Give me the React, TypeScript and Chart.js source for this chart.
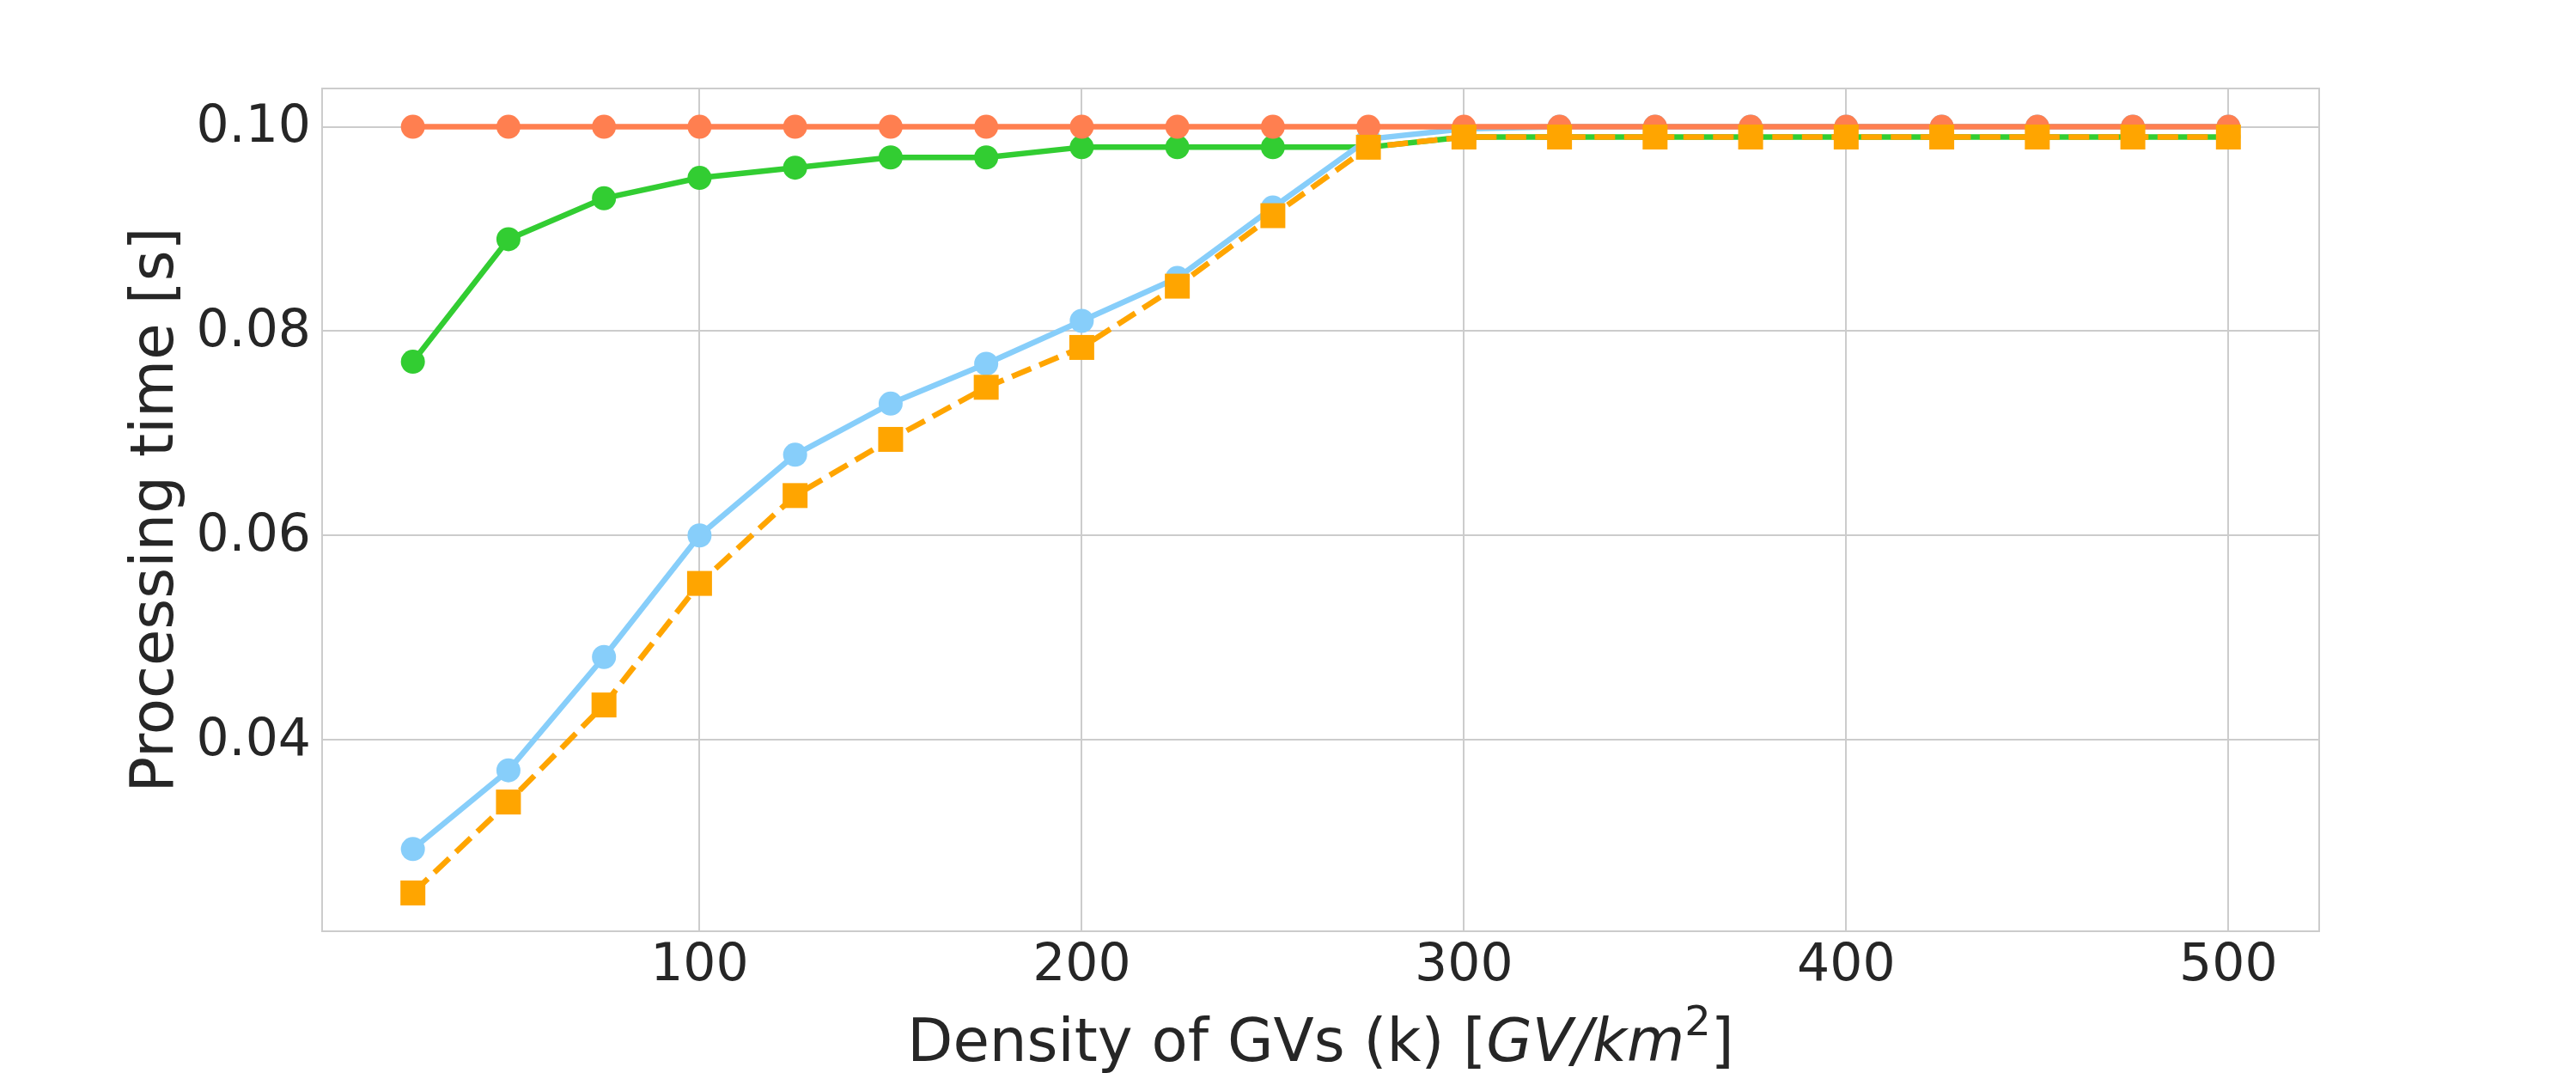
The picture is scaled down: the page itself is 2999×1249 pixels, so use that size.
import React, { useEffect, useRef } from 'react';
import { Chart, registerables } from 'chart.js';

Chart.register(...registerables);

// ---- data ----
const densities = [25, 50, 75, 100, 125, 150, 175, 200, 225, 250, 275, 300, 325, 350, 375, 400, 425, 450, 475, 500];
const timeCoral = [0.1, 0.1, 0.1, 0.1, 0.1, 0.1, 0.1, 0.1, 0.1, 0.1, 0.1, 0.1, 0.1, 0.1, 0.1, 0.1, 0.1, 0.1, 0.1, 0.1];
const timeGreen = [0.077, 0.089, 0.093, 0.095, 0.096, 0.097, 0.097, 0.098, 0.098, 0.098, 0.098, 0.099, 0.099, 0.099, 0.099, 0.099, 0.099, 0.099, 0.099, 0.099];
const timeBlue = [0.0293, 0.037, 0.0481, 0.06, 0.0679, 0.0729, 0.0768, 0.081, 0.0852, 0.0921, 0.0988, 0.0998, 0.1, 0.1, 0.1, 0.1, 0.1, 0.1, 0.1, 0.1];
const timeOrange = [0.025, 0.0339, 0.0434, 0.0553, 0.0639, 0.0694, 0.0745, 0.0784, 0.0844, 0.0913, 0.098, 0.099, 0.099, 0.099, 0.099, 0.099, 0.099, 0.099, 0.099, 0.099];
const xTicks = [100, 200, 300, 400, 500];
const yTicks = [0.04, 0.06, 0.08, 0.1];
const yTickLabels = ['0.04', '0.06', '0.08', '0.10'];
const yTitle = 'Processing time [s]';
const xTitleParts = ['Density of GVs (k) [', 'GV/km', '2', ']'];

const FONT = '"DejaVu Sans", sans-serif';
const TEXT = '#262626';
const GRID = '#cccccc';

const toPoints = (ys: number[]) => densities.map((x, i) => ({ x, y: ys[i] }));

const framePlugin = {
  id: 'frame',
  beforeDatasetsDraw(chart: any) {
    const { ctx, chartArea } = chart;
    ctx.save();
    ctx.strokeStyle = GRID;
    ctx.lineWidth = 2;
    ctx.strokeRect(chartArea.left, chartArea.top, chartArea.right - chartArea.left, chartArea.bottom - chartArea.top);
    ctx.restore();
  },
};

const xTitlePlugin = {
  id: 'xTitleMath',
  afterDraw(chart: any) {
    const { ctx, chartArea } = chart;
    const size = 69;
    const parts = [
      { text: xTitleParts[0], font: `${size}px ${FONT}`, dy: 0 },
      { text: xTitleParts[1], font: `italic ${size}px ${FONT}`, dy: 0 },
      { text: xTitleParts[2], font: `${Math.round(size * 0.7)}px ${FONT}`, dy: -30 },
      { text: xTitleParts[3], font: `${size}px ${FONT}`, dy: 0 },
    ];
    ctx.save();
    ctx.fillStyle = TEXT;
    ctx.textBaseline = 'alphabetic';
    ctx.textAlign = 'left';
    const widths = parts.map((p) => {
      ctx.font = p.font;
      return ctx.measureText(p.text).width;
    });
    const total = widths.reduce((a, b) => a + b, 0);
    let x = (chartArea.left + chartArea.right) / 2 - total / 2;
    const baseY = chartArea.bottom + 151;
    parts.forEach((p, i) => {
      ctx.font = p.font;
      ctx.fillText(p.text, x, baseY + p.dy);
      x += widths[i];
    });
    ctx.restore();
  },
};

export default function App() {
  const ref = useRef<HTMLCanvasElement | null>(null);

  useEffect(() => {
    if (!ref.current) return;
    const lineCommon = {
      borderWidth: 6.5,
      pointRadius: 14,
      pointHoverRadius: 14,
      pointBorderWidth: 0,
      tension: 0,
      borderJoinStyle: 'round' as const,
      borderCapStyle: 'butt' as const,
      clip: false as const,
    };
    const chart = new Chart(ref.current, {
      type: 'line',
      data: {
        datasets: [
          {
            ...lineCommon,
            label: 'Series D',
            data: toPoints(timeOrange),
            borderColor: '#FFA500',
            backgroundColor: '#FFA500',
            pointBackgroundColor: '#FFA500',
            pointStyle: 'rect',
            pointRadius: 20.5,
            pointHoverRadius: 20.5,
            borderDash: [24, 10.5],
            order: 0,
          },
          {
            ...lineCommon,
            label: 'Series A',
            data: toPoints(timeCoral),
            borderColor: '#FF7F50',
            backgroundColor: '#FF7F50',
            pointBackgroundColor: '#FF7F50',
            pointStyle: 'circle',
            order: 1,
          },
          {
            ...lineCommon,
            label: 'Series C',
            data: toPoints(timeBlue),
            borderColor: '#87CEFA',
            backgroundColor: '#87CEFA',
            pointBackgroundColor: '#87CEFA',
            pointStyle: 'circle',
            order: 2,
          },
          {
            ...lineCommon,
            label: 'Series B',
            data: toPoints(timeGreen),
            borderColor: '#32CD32',
            backgroundColor: '#32CD32',
            pointBackgroundColor: '#32CD32',
            pointStyle: 'circle',
            order: 3,
          },
        ],
      },
      options: {
        responsive: false,
        animation: false,
        devicePixelRatio: 1,
        layout: { padding: { left: 100, top: 103, right: 299, bottom: 0 } },
        plugins: {
          legend: { display: false },
          tooltip: { enabled: false },
        },
        scales: {
          x: {
            type: 'linear',
            position: 'bottom',
            min: 1.25,
            max: 523.75,
            afterBuildTicks: (scale: any) => {
              scale.ticks = xTicks.map((v) => ({ value: v }));
            },
            afterFit: (scale: any) => {
              scale.height = 165;
            },
            grid: { color: GRID, lineWidth: 2, drawTicks: false },
            border: { display: false },
            ticks: {
              color: TEXT,
              font: { family: FONT, size: 60 },
              padding: 5,
              maxRotation: 0,
              autoSkip: false,
              callback: (v: any) => String(v),
            },
            title: { display: false },
          },
          y: {
            type: 'linear',
            position: 'left',
            min: 0.02125,
            max: 0.10375,
            afterBuildTicks: (scale: any) => {
              scale.ticks = yTicks.map((v) => ({ value: v }));
            },
            afterFit: (scale: any) => {
              scale.width = 275;
            },
            grid: { color: GRID, lineWidth: 2, drawTicks: false },
            border: { display: false },
            ticks: {
              color: TEXT,
              font: { family: FONT, size: 60 },
              padding: 13,
              labelOffset: 2,
              autoSkip: false,
              callback: (v: any) => {
                const i = yTicks.findIndex((t) => Math.abs(t - v) < 1e-9);
                return i >= 0 ? yTickLabels[i] : '';
              },
            },
            title: {
              display: true,
              text: yTitle,
              color: TEXT,
              font: { family: FONT, size: 69 },
              padding: { top: 42, bottom: 0 },
            },
          },
        },
      },
      plugins: [framePlugin, xTitlePlugin],
    });
    return () => chart.destroy();
  }, []);

  return (
    <div style={{ position: 'fixed', left: 0, top: 0, width: 2999, height: 1249, background: '#ffffff' }}>
      <canvas ref={ref} width={2999} height={1249} style={{ display: 'block', width: 2999, height: 1249 }} />
    </div>
  );
}
